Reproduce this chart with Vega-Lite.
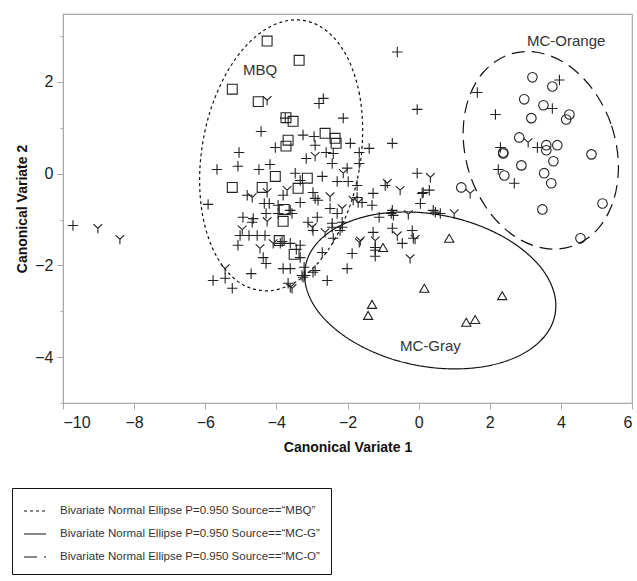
{
  "$schema": "https://vega.github.io/schema/vega-lite/v6.json",
  "width": 569,
  "height": 389,
  "autosize": "none",
  "padding": {"left": 63, "top": 14, "right": 5, "bottom": 178},
  "background": "white",
  "config": {
    "font": "Liberation Sans",
    "view": {"stroke": "#a8a8a8", "strokeWidth": 1.2},
    "axis": {
      "grid": false,
      "domainColor": "#a8a8a8",
      "tickColor": "#a8a8a8",
      "labelColor": "#222",
      "labelFont": "Liberation Sans",
      "labelFontSize": 16,
      "titleFont": "Liberation Sans",
      "titleFontSize": 14,
      "titleFontWeight": "bold",
      "titleColor": "#111"
    }
  },
  "datasets": {
    "pts": [
      {"x": -4.26, "y": 2.89, "g": "sq"}, {"x": -3.36, "y": 2.47, "g": "sq"}, {"x": -5.24, "y": 1.84, "g": "sq"},
      {"x": -4.51, "y": 1.57, "g": "sq"}, {"x": -3.73, "y": 1.22, "g": "sq"}, {"x": -3.53, "y": 1.14, "g": "sq"},
      {"x": -2.63, "y": 0.88, "g": "sq"}, {"x": -2.35, "y": 0.77, "g": "sq"}, {"x": -2.32, "y": 0.66, "g": "sq"},
      {"x": -3.67, "y": 0.73, "g": "sq"}, {"x": -3.73, "y": 0.60, "g": "sq"}, {"x": -4.03, "y": -0.06, "g": "sq"},
      {"x": -4.40, "y": -0.30, "g": "sq"}, {"x": -3.13, "y": -0.10, "g": "sq"}, {"x": -3.39, "y": -0.32, "g": "sq"},
      {"x": -3.78, "y": -0.78, "g": "sq"}, {"x": -3.81, "y": -1.04, "g": "sq"}, {"x": -3.92, "y": -1.46, "g": "sq"},
      {"x": -3.50, "y": -1.76, "g": "sq"}, {"x": -5.24, "y": -0.30, "g": "sq"},
      {"x": -1.00, "y": -1.61, "g": "tr"}, {"x": 0.86, "y": -1.41, "g": "tr"}, {"x": 0.16, "y": -2.50, "g": "tr"},
      {"x": -1.31, "y": -2.85, "g": "tr"}, {"x": -1.42, "y": -3.09, "g": "tr"}, {"x": 1.34, "y": -3.24, "g": "tr"},
      {"x": 1.59, "y": -3.18, "g": "tr"}, {"x": 2.35, "y": -2.66, "g": "tr"},
      {"x": 3.20, "y": 2.10, "g": "ci"}, {"x": 3.76, "y": 1.90, "g": "ci"}, {"x": 2.97, "y": 1.62, "g": "ci"},
      {"x": 3.51, "y": 1.49, "g": "ci"}, {"x": 4.24, "y": 1.29, "g": "ci"}, {"x": 4.15, "y": 1.18, "g": "ci"},
      {"x": 3.17, "y": 1.21, "g": "ci"}, {"x": 2.83, "y": 0.79, "g": "ci"}, {"x": 3.59, "y": 0.62, "g": "ci"},
      {"x": 3.90, "y": 0.62, "g": "ci"}, {"x": 3.59, "y": 0.51, "g": "ci"}, {"x": 2.38, "y": 0.46, "g": "ci"},
      {"x": 2.38, "y": 0.44, "g": "ci"}, {"x": 4.86, "y": 0.42, "g": "ci"}, {"x": 3.79, "y": 0.27, "g": "ci"},
      {"x": 2.89, "y": 0.18, "g": "ci"}, {"x": 3.53, "y": 0.01, "g": "ci"}, {"x": 2.41, "y": -0.04, "g": "ci"},
      {"x": 3.73, "y": -0.21, "g": "ci"}, {"x": 1.20, "y": -0.30, "g": "ci"}, {"x": 3.48, "y": -0.78, "g": "ci"},
      {"x": 5.17, "y": -0.65, "g": "ci"}, {"x": 4.55, "y": -1.41, "g": "ci"},
      {"x": 3.96, "y": 2.04, "g": "p"}, {"x": 1.65, "y": 1.77, "g": "p"}, {"x": 2.16, "y": 1.29, "g": "p"},
      {"x": 3.76, "y": 1.42, "g": "p"}, {"x": -0.04, "y": 1.40, "g": "p"}, {"x": 2.30, "y": 0.57, "g": "p"},
      {"x": 3.34, "y": 0.57, "g": "p"}, {"x": 2.24, "y": 0.09, "g": "p"}, {"x": 2.69, "y": -0.21, "g": "p"},
      {"x": -0.04, "y": 0.01, "g": "p"}, {"x": 0.13, "y": -0.41, "g": "p"}, {"x": 0.30, "y": -0.36, "g": "p"},
      {"x": 0.05, "y": -0.65, "g": "p"}, {"x": 0.47, "y": -0.84, "g": "p"}, {"x": 0.61, "y": -0.87, "g": "p"},
      {"x": -0.18, "y": -1.24, "g": "p"}, {"x": -0.15, "y": -1.41, "g": "p"}, {"x": -0.46, "y": -1.52, "g": "p"},
      {"x": -0.74, "y": 0.66, "g": "p"}, {"x": -0.94, "y": -0.26, "g": "p"}, {"x": 0.10, "y": -0.43, "g": "p"},
      {"x": -0.74, "y": -0.80, "g": "p"}, {"x": -0.71, "y": -0.91, "g": "p"}, {"x": 0.41, "y": -0.80, "g": "p"},
      {"x": -1.28, "y": -0.43, "g": "p"}, {"x": -0.77, "y": -0.87, "g": "p"}, {"x": -1.11, "y": -0.95, "g": "p"},
      {"x": -0.74, "y": -1.19, "g": "p"}, {"x": -1.28, "y": -1.28, "g": "p"}, {"x": -1.22, "y": -1.67, "g": "p"},
      {"x": -1.22, "y": -1.80, "g": "p"}, {"x": -1.87, "y": -1.74, "g": "p"}, {"x": -2.01, "y": -2.07, "g": "p"},
      {"x": -2.71, "y": -1.72, "g": "p"}, {"x": -2.97, "y": -2.15, "g": "p"}, {"x": -2.57, "y": -2.33, "g": "p"},
      {"x": -3.28, "y": -2.22, "g": "p"}, {"x": -2.40, "y": -1.41, "g": "p"}, {"x": -2.21, "y": -1.24, "g": "p"},
      {"x": -2.15, "y": -1.06, "g": "p"}, {"x": -2.43, "y": -1.17, "g": "p"}, {"x": -0.60, "y": 2.65, "g": "p"},
      {"x": -2.68, "y": 1.64, "g": "p"}, {"x": -2.80, "y": 1.53, "g": "p"}, {"x": -2.12, "y": 1.21, "g": "p"},
      {"x": -3.75, "y": 1.21, "g": "p"}, {"x": -4.43, "y": 0.92, "g": "p"}, {"x": -5.05, "y": 0.46, "g": "p"},
      {"x": -5.08, "y": 0.16, "g": "p"}, {"x": -5.67, "y": 0.09, "g": "p"}, {"x": -4.49, "y": 0.09, "g": "p"},
      {"x": -4.18, "y": 0.20, "g": "p"}, {"x": -4.03, "y": 0.57, "g": "p"}, {"x": -3.25, "y": 0.84, "g": "p"},
      {"x": -2.94, "y": 0.81, "g": "p"}, {"x": -2.91, "y": 0.62, "g": "p"}, {"x": -2.60, "y": 0.46, "g": "p"},
      {"x": -3.16, "y": 0.33, "g": "p"}, {"x": -2.40, "y": 0.44, "g": "p"}, {"x": -2.43, "y": 0.22, "g": "p"},
      {"x": -1.92, "y": 0.66, "g": "p"}, {"x": -1.39, "y": 0.55, "g": "p"}, {"x": -1.67, "y": 0.46, "g": "p"},
      {"x": -1.67, "y": 0.22, "g": "p"}, {"x": -2.01, "y": 0.12, "g": "p"}, {"x": -2.71, "y": -0.06, "g": "p"},
      {"x": -3.47, "y": 0.01, "g": "p"}, {"x": -3.33, "y": -0.15, "g": "p"}, {"x": -2.29, "y": -0.17, "g": "p"},
      {"x": -1.98, "y": -0.17, "g": "p"}, {"x": -1.73, "y": -0.26, "g": "p"}, {"x": -5.92, "y": -0.67, "g": "p"},
      {"x": -4.82, "y": -0.47, "g": "p"}, {"x": -4.34, "y": -0.65, "g": "p"}, {"x": -3.81, "y": -0.47, "g": "p"},
      {"x": -2.97, "y": -0.41, "g": "p"}, {"x": -2.83, "y": -0.58, "g": "p"}, {"x": -1.59, "y": -0.63, "g": "p"},
      {"x": -4.94, "y": -0.95, "g": "p"}, {"x": -4.65, "y": -0.98, "g": "p"}, {"x": -4.68, "y": -1.06, "g": "p"},
      {"x": -5.02, "y": -1.35, "g": "p"}, {"x": -4.77, "y": -1.35, "g": "p"}, {"x": -4.54, "y": -1.35, "g": "p"},
      {"x": -4.32, "y": -1.35, "g": "p"}, {"x": -5.08, "y": -1.56, "g": "p"}, {"x": -4.37, "y": -1.83, "g": "p"},
      {"x": -4.29, "y": -1.96, "g": "p"}, {"x": -4.71, "y": -2.18, "g": "p"}, {"x": -5.78, "y": -2.33, "g": "p"},
      {"x": -5.44, "y": -2.28, "g": "p"}, {"x": -5.24, "y": -2.50, "g": "p"}, {"x": -4.29, "y": -0.87, "g": "p"},
      {"x": -4.20, "y": -0.65, "g": "p"}, {"x": -3.95, "y": -0.69, "g": "p"}, {"x": -3.95, "y": -0.87, "g": "p"},
      {"x": -3.61, "y": -0.80, "g": "p"}, {"x": -3.56, "y": -0.87, "g": "p"}, {"x": -3.84, "y": -1.48, "g": "p"},
      {"x": -3.89, "y": -1.52, "g": "p"}, {"x": -3.61, "y": -1.52, "g": "p"}, {"x": -3.81, "y": -2.07, "g": "p"},
      {"x": -3.61, "y": -2.07, "g": "p"}, {"x": -3.33, "y": -1.56, "g": "p"}, {"x": -3.33, "y": -1.83, "g": "p"},
      {"x": -3.44, "y": -1.65, "g": "p"}, {"x": -3.22, "y": -2.04, "g": "p"}, {"x": -3.19, "y": -2.22, "g": "p"},
      {"x": -3.25, "y": -2.26, "g": "p"}, {"x": -2.91, "y": -2.11, "g": "p"}, {"x": -3.67, "y": -2.39, "g": "p"},
      {"x": -3.33, "y": -0.63, "g": "p"}, {"x": -2.91, "y": -0.54, "g": "p"}, {"x": -3.11, "y": -1.06, "g": "p"},
      {"x": -2.85, "y": -0.95, "g": "p"}, {"x": -2.97, "y": -1.24, "g": "p"}, {"x": -2.43, "y": -1.08, "g": "p"},
      {"x": -2.49, "y": -0.76, "g": "p"}, {"x": -2.29, "y": -0.87, "g": "p"}, {"x": -2.15, "y": -1.17, "g": "p"},
      {"x": -1.73, "y": -0.52, "g": "p"}, {"x": -1.31, "y": -0.69, "g": "p"}, {"x": -1.22, "y": -1.61, "g": "p"},
      {"x": -9.72, "y": -1.13, "g": "p"},
      {"x": 3.08, "y": 0.68, "g": "Y"}, {"x": 0.33, "y": -0.08, "g": "Y"}, {"x": 1.45, "y": -0.43, "g": "Y"},
      {"x": 1.00, "y": -0.87, "g": "Y"}, {"x": -0.29, "y": -0.89, "g": "Y"}, {"x": -0.10, "y": -1.43, "g": "Y"},
      {"x": -0.24, "y": -1.85, "g": "Y"}, {"x": -0.52, "y": -0.36, "g": "Y"}, {"x": -0.88, "y": -0.21, "g": "Y"},
      {"x": -0.60, "y": -1.35, "g": "Y"}, {"x": -1.22, "y": -1.46, "g": "Y"}, {"x": -1.67, "y": -1.50, "g": "Y"},
      {"x": -3.61, "y": -2.48, "g": "Y"}, {"x": -4.26, "y": 1.60, "g": "Y"}, {"x": -2.91, "y": 0.38, "g": "Y"},
      {"x": -2.12, "y": 0.01, "g": "Y"}, {"x": -4.68, "y": -0.52, "g": "Y"}, {"x": -4.26, "y": -0.41, "g": "Y"},
      {"x": -3.70, "y": -0.36, "g": "Y"}, {"x": -2.49, "y": -0.50, "g": "Y"}, {"x": -1.84, "y": -0.58, "g": "Y"},
      {"x": -4.96, "y": -1.22, "g": "Y"}, {"x": -4.46, "y": -1.63, "g": "Y"}, {"x": -5.44, "y": -2.07, "g": "Y"},
      {"x": -4.26, "y": -1.04, "g": "Y"}, {"x": -4.09, "y": -1.52, "g": "Y"}, {"x": -3.56, "y": -2.50, "g": "Y"},
      {"x": -2.99, "y": -1.17, "g": "Y"}, {"x": -2.63, "y": -1.28, "g": "Y"}, {"x": -2.15, "y": -0.76, "g": "Y"},
      {"x": -1.70, "y": -0.63, "g": "Y"}, {"x": -1.64, "y": -1.46, "g": "Y"}, {"x": -9.02, "y": -1.19, "g": "Y"},
      {"x": -8.40, "y": -1.43, "g": "Y"}
    ],
    "ell": [
      {"e": "MBQ", "i": 0, "x": -1.587, "y": 0.617}, {"e": "MBQ", "i": 1, "x": -1.663, "y": 1.728},
      {"e": "MBQ", "i": 2, "x": -2.076, "y": 2.636}, {"e": "MBQ", "i": 3, "x": -2.759, "y": 3.204},
      {"e": "MBQ", "i": 4, "x": -3.613, "y": 3.345}, {"e": "MBQ", "i": 5, "x": -4.505, "y": 3.038},
      {"e": "MBQ", "i": 6, "x": -5.298, "y": 2.328}, {"e": "MBQ", "i": 7, "x": -5.875, "y": 1.326},
      {"e": "MBQ", "i": 8, "x": -6.145, "y": 0.181}, {"e": "MBQ", "i": 9, "x": -6.069, "y": -0.930},
      {"e": "MBQ", "i": 10, "x": -5.656, "y": -1.838}, {"e": "MBQ", "i": 11, "x": -4.973, "y": -2.406},
      {"e": "MBQ", "i": 12, "x": -4.119, "y": -2.547}, {"e": "MBQ", "i": 13, "x": -3.227, "y": -2.240},
      {"e": "MBQ", "i": 14, "x": -2.434, "y": -1.530}, {"e": "MBQ", "i": 15, "x": -1.857, "y": -0.528},
      {"e": "MC-G", "i": 0, "x": 3.843, "y": -2.721}, {"e": "MC-G", "i": 1, "x": 3.447, "y": -2.056},
      {"e": "MC-G", "i": 2, "x": 2.574, "y": -1.467}, {"e": "MC-G", "i": 3, "x": 1.361, "y": -1.040},
      {"e": "MC-G", "i": 4, "x": -0.012, "y": -0.844}, {"e": "MC-G", "i": 5, "x": -1.333, "y": -0.906},
      {"e": "MC-G", "i": 6, "x": -2.400, "y": -1.219}, {"e": "MC-G", "i": 7, "x": -3.053, "y": -1.732},
      {"e": "MC-G", "i": 8, "x": -3.191, "y": -2.371}, {"e": "MC-G", "i": 9, "x": -2.795, "y": -3.036},
      {"e": "MC-G", "i": 10, "x": -1.922, "y": -3.625}, {"e": "MC-G", "i": 11, "x": -0.709, "y": -4.052},
      {"e": "MC-G", "i": 12, "x": 0.664, "y": -4.248}, {"e": "MC-G", "i": 13, "x": 1.985, "y": -4.186},
      {"e": "MC-G", "i": 14, "x": 3.052, "y": -3.873}, {"e": "MC-G", "i": 15, "x": 3.705, "y": -3.360},
      {"e": "MC-O", "i": 0, "x": 5.616, "y": 0.246}, {"e": "MC-O", "i": 1, "x": 5.407, "y": 1.085},
      {"e": "MC-O", "i": 2, "x": 4.897, "y": 1.835}, {"e": "MC-O", "i": 3, "x": 4.166, "y": 2.384},
      {"e": "MC-O", "i": 4, "x": 3.322, "y": 2.646}, {"e": "MC-O", "i": 5, "x": 2.496, "y": 2.584},
      {"e": "MC-O", "i": 6, "x": 1.813, "y": 2.205}, {"e": "MC-O", "i": 7, "x": 1.377, "y": 1.569},
      {"e": "MC-O", "i": 8, "x": 1.254, "y": 0.770}, {"e": "MC-O", "i": 9, "x": 1.463, "y": -0.069},
      {"e": "MC-O", "i": 10, "x": 1.973, "y": -0.819}, {"e": "MC-O", "i": 11, "x": 2.704, "y": -1.368},
      {"e": "MC-O", "i": 12, "x": 3.548, "y": -1.630}, {"e": "MC-O", "i": 13, "x": 4.374, "y": -1.568},
      {"e": "MC-O", "i": 14, "x": 5.057, "y": -1.189}, {"e": "MC-O", "i": 15, "x": 5.493, "y": -0.553}
    ],
    "lab": [
      {"t": "MBQ", "x": -4.46, "y": 2.27},
      {"t": "MC-Orange", "x": 4.15, "y": 2.89},
      {"t": "MC-Gray", "x": 0.33, "y": -3.76}
    ]
  },
  "layer": [
    {
      "data": {"name": "ell"},
      "mark": {"type": "line", "interpolate": "cardinal-closed", "color": "#111", "strokeWidth": 1.2},
      "encoding": {
        "x": {
          "field": "x", "type": "quantitative",
          "scale": {"domain": [-10, 6], "nice": false, "zero": false},
          "axis": {
            "values": [-10, -9, -8, -7, -6, -5, -4, -3, -2, -1, 0, 1, 2, 3, 4, 5, 6],
            "labelExpr": "datum.value % 2 === 0 ? datum.label : ''",
            "tickSize": {"condition": {"test": "datum.value % 2 !== 0", "value": 3}, "value": 6},
            "labelPadding": 5,
            "labelOverlap": false,
            "title": "Canonical Variate 1",
            "titlePadding": 10
          }
        },
        "y": {
          "field": "y", "type": "quantitative",
          "scale": {"domain": [-5, 3.48], "nice": false, "zero": false},
          "axis": {
            "values": [-5, -4, -3, -2, -1, 0, 1, 2, 3],
            "labelExpr": "datum.value % 2 === 0 ? datum.label : ''",
            "tickSize": {"condition": {"test": "datum.value % 2 !== 0", "value": 3}, "value": 6},
            "labelPadding": 4,
            "labelOverlap": false,
            "title": "Canonical Variate 2",
            "titlePadding": 5
          }
        },
        "order": {"field": "i", "type": "quantitative"},
        "strokeDash": {
          "field": "e", "type": "nominal",
          "scale": {"domain": ["MBQ", "MC-G", "MC-O"], "range": [[3, 3], [1, 0], [13, 7]]},
          "legend": {
            "title": null,
            "orient": "none",
            "legendX": -51,
            "legendY": 474,
            "strokeColor": "#111",
            "padding": 11,
            "labelOffset": 13,
            "symbolType": "stroke",
            "symbolSize": 484,
            "symbolStrokeWidth": 1.2,
            "symbolStrokeColor": "#111",
            "labelFont": "Liberation Sans",
            "labelFontSize": 11.5,
            "labelColor": "#333",
            "labelLimit": 400,
            "rowPadding": 5,
            "labelExpr": "'Bivariate Normal Ellipse P=0.950 Source==“' + datum.label + '”'",
            "encode": {
              "symbols": {
                "update": {
                  "strokeDash": {"signal": "datum.value === 'MBQ' ? [3, 2] : datum.value === 'MC-O' ? [9, 4] : [1, 0]"}
                }
              }
            }
          }
        }
      }
    },
    {
      "data": {"name": "pts"},
      "mark": {"type": "point", "filled": false, "strokeWidth": 1.1, "color": "#222", "opacity": 1},
      "encoding": {
        "x": {"field": "x", "type": "quantitative"},
        "y": {"field": "y", "type": "quantitative"},
        "shape": {
          "field": "g", "type": "nominal",
          "scale": {
            "domain": ["p", "Y", "sq", "ci", "tr"],
            "range": ["M-1,0L1,0M0,-1L0,1", "M0,0L0,1M0,0L-0.85,-0.8M0,0L0.85,-0.8", "square", "circle", "triangle-up"]
          },
          "legend": null
        },
        "size": {
          "field": "g", "type": "nominal",
          "scale": {"domain": ["p", "Y", "sq", "ci", "tr"], "range": [110, 85, 64, 81, 90]},
          "legend": null
        }
      }
    },
    {
      "data": {"name": "lab"},
      "mark": {"type": "text", "fontSize": 15, "font": "Liberation Sans", "color": "#333", "align": "center", "baseline": "middle"},
      "encoding": {
        "x": {"field": "x", "type": "quantitative"},
        "y": {"field": "y", "type": "quantitative"},
        "text": {"field": "t"}
      }
    }
  ]
}
